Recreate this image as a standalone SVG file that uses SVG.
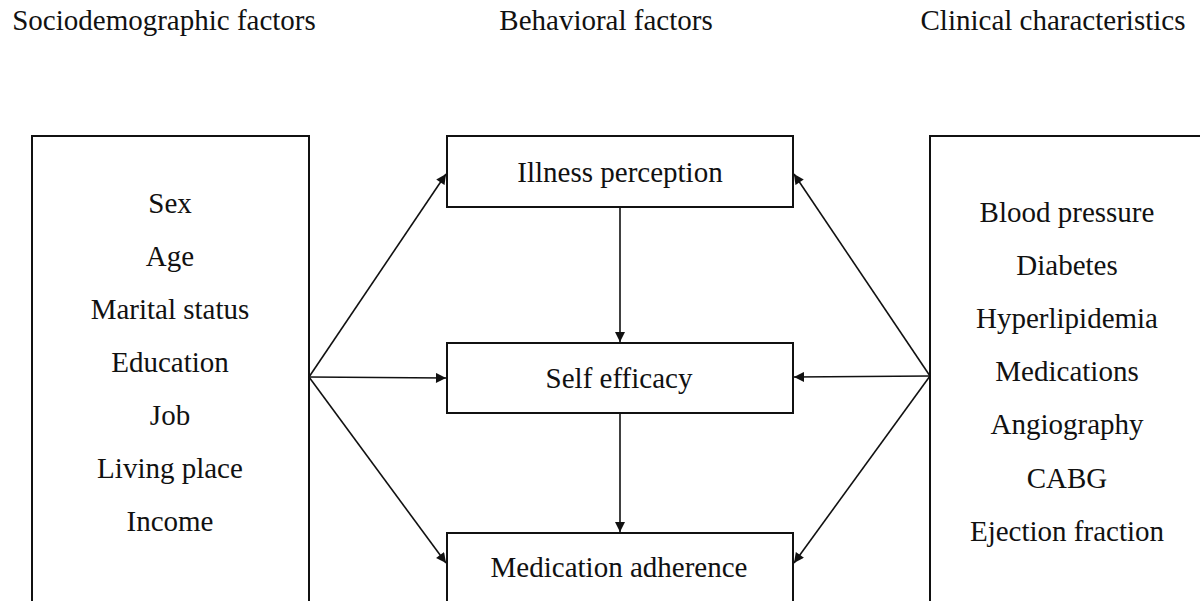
<svg xmlns="http://www.w3.org/2000/svg" width="1200" height="601" viewBox="0 0 1200 601">
<style>
text{font-family:"Liberation Serif","Times New Roman",serif;font-size:29px;fill:#111;}
.c{text-anchor:middle;}
.box{fill:#fff;stroke:#111;stroke-width:2;}
.edge{fill:none;stroke:#111;stroke-width:1.6;}
</style>
<defs>
<marker id="ah" viewBox="0 0 10 10" refX="10" refY="5" markerWidth="11" markerHeight="10" markerUnits="userSpaceOnUse" orient="auto">
<path d="M0,0 L10,5 L0,10 Z" fill="#111"/>
</marker>
</defs>
<rect width="1200" height="601" fill="#fff"/>
<g id="headings">
<text x="164" y="30" class="c">Sociodemographic factors</text>
<text x="606" y="30" class="c">Behavioral factors</text>
<text x="1053" y="30" class="c">Clinical characteristics</text>
</g>
<g id="socio">
<rect class="box" x="32" y="136" width="277" height="480"/>
<text x="170" y="213" class="c">Sex</text>
<text x="170" y="266" class="c">Age</text>
<text x="170" y="319" class="c">Marital status</text>
<text x="170" y="372" class="c">Education</text>
<text x="170" y="425" class="c">Job</text>
<text x="170" y="478" class="c">Living place</text>
<text x="170" y="531" class="c">Income</text>
</g>
<g id="clinical">
<rect class="box" x="930" y="136" width="290" height="480"/>
<text x="1067" y="222" class="c">Blood pressure</text>
<text x="1067" y="275" class="c">Diabetes</text>
<text x="1067" y="328" class="c">Hyperlipidemia</text>
<text x="1067" y="381" class="c">Medications</text>
<text x="1067" y="434" class="c">Angiography</text>
<text x="1067" y="488" class="c">CABG</text>
<text x="1067" y="541" class="c">Ejection fraction</text>
</g>
<g id="illness">
<rect class="box" x="447" y="136" width="346" height="71"/>
<text x="620" y="182" class="c">Illness perception</text>
</g>
<g id="selfefficacy">
<rect class="box" x="447" y="343" width="346" height="70"/>
<text x="619" y="388" class="c">Self efficacy</text>
</g>
<g id="adherence">
<rect class="box" x="447" y="533" width="346" height="80"/>
<text x="619" y="577" class="c">Medication adherence</text>
</g>
<g id="connectors">
<line class="edge" x1="309" y1="377" x2="446" y2="174" marker-end="url(#ah)"/>
<line class="edge" x1="309" y1="377" x2="446" y2="378" marker-end="url(#ah)"/>
<line class="edge" x1="309" y1="377" x2="446" y2="563" marker-end="url(#ah)"/>
<line class="edge" x1="930" y1="376" x2="794" y2="174" marker-end="url(#ah)"/>
<line class="edge" x1="930" y1="376" x2="794" y2="377" marker-end="url(#ah)"/>
<line class="edge" x1="930" y1="376" x2="794" y2="563" marker-end="url(#ah)"/>
<line class="edge" x1="620" y1="207" x2="620" y2="342" marker-end="url(#ah)"/>
<line class="edge" x1="620" y1="413" x2="620" y2="532" marker-end="url(#ah)"/>
</g>
</svg>
